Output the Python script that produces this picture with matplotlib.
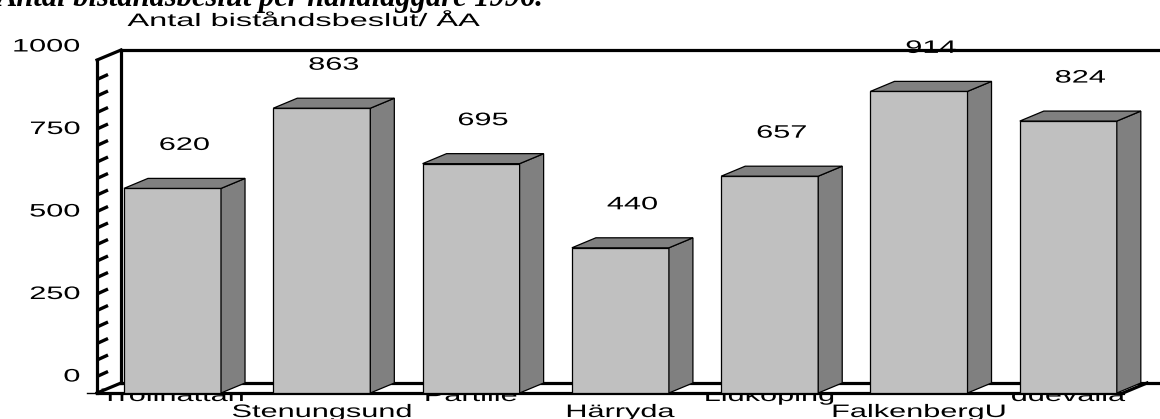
"""
Bar chart: number of assistance decisions per case officer (1996).

Drawn in the old pseudo-3D office style: grey boxes standing on a floor,
a ticked side wall on the left and wide, stretched Arial-like lettering.
"""

import matplotlib.pyplot as plt
import matplotlib.transforms as mtransforms
import numpy as np
from matplotlib.patches import Polygon
from matplotlib.patheffects import AbstractPathEffect

TITLE = "Antal biståndsbeslut per handläggare 1996."
SUBTITLE = "Antal biståndsbeslut/ ÅA"

KOMMUNER = ["Trollhättan", "Stenungsund", "Partille", "Härryda",
            "Lidköping", "FalkenbergU", "ddevalla"]
BESLUT = [620, 863, 695, 440, 657, 914, 824]
Y_TICKS = [0, 250, 500, 750, 1000]
WALL_TICKS = np.arange(50, 1000, 50)

FRONT = "#c0c0c0"
SHADE = "#808080"
INK = "black"

# canvas geometry (pixels at dpi 100)
W, H, DPI = 1160, 419, 100
SLOT_PX = 149.3      # distance between bars
UNIT_PX = 0.33       # pixels per decision
FIRST_PX = 172.5     # centre of first bar front
BASE_PX = 393        # front floor line
BAR_W = 0.65
DX = 24 / SLOT_PX    # box depth, data units
DY = 10 / UNIT_PX
WALL_X = (97 - FIRST_PX) / SLOT_PX
WALL_TOP = 1009
FLOOR_END = (1123 - FIRST_PX) / SLOT_PX
STRETCH = 1.7
LW = 2.3


class Stretch(AbstractPathEffect):
    """Widen glyphs horizontally about the text anchor."""

    def __init__(self, sx, anchor="center"):
        super().__init__()
        self.sx = sx
        self.anchor = anchor

    def draw_path(self, renderer, gc, tpath, affine, rgbFace=None):
        ext = tpath.get_extents()
        a = {"left": ext.x0, "center": (ext.x0 + ext.x1) / 2,
             "right": ext.x1}[self.anchor]
        widen = mtransforms.Affine2D().translate(-a, 0).scale(self.sx, 1).translate(a, 0)
        renderer.draw_path(gc, tpath, widen + affine, rgbFace)


def wide_text(ax, x, y, s, ha="center", va="center", dx=0, dy=0,
              sx=STRETCH, **kw):
    tr = mtransforms.offset_copy(ax.transData, x=dx, y=dy, units="dots")
    return ax.text(x, y, s, ha=ha, va=va, transform=tr,
                   fontfamily="Liberation Sans", fontsize=13,
                   path_effects=[Stretch(sx, ha)], **kw)


fig = plt.figure(figsize=(W / DPI, H / DPI), dpi=DPI)
fig.patch.set_facecolor("white")
ax = fig.add_axes([0, 0, 1, 1])
ax.axis("off")
xmax = (W - FIRST_PX) / SLOT_PX
ax.set_xlim(-FIRST_PX / SLOT_PX, xmax)
ax.set_ylim(-(H - BASE_PX) / UNIT_PX, BASE_PX / UNIT_PX)

# floor, side wall and back wall outline
ax.add_patch(Polygon([(WALL_X, 0), (WALL_X + DX, DY), (FLOOR_END + DX, DY),
                      (FLOOR_END, 0)], closed=True, fc="white", ec="none",
                     zorder=2))
line = dict(color=INK, lw=LW, zorder=3, solid_capstyle="projecting")
ax.plot([WALL_X, WALL_X], [0, WALL_TOP], **line)
ax.plot([WALL_X + DX] * 2, [DY, WALL_TOP + DY], **line)
ax.plot([WALL_X, WALL_X + DX], [WALL_TOP, WALL_TOP + DY], **line)
ax.plot([WALL_X + DX, xmax], [WALL_TOP + DY] * 2,
        color=INK, lw=LW, zorder=7)
ax.plot([WALL_X, FLOOR_END], [0, 0], **line)
ax.plot([WALL_X, WALL_X + DX], [0, DY], **line)
ax.plot([FLOOR_END, FLOOR_END + DX], [0, DY], **line)
ax.plot([WALL_X + DX, xmax], [DY, DY], **line)

# slanted minor ticks painted on the side wall
for v in WALL_TICKS:
    ax.plot([WALL_X, WALL_X + 11 / SLOT_PX], [v, v + 5 / UNIT_PX],
            color=INK, lw=2.4, zorder=3, solid_capstyle="butt")
ax.plot([WALL_X - 10 / SLOT_PX, WALL_X], [0, 0], color=INK, lw=1, zorder=3)

for v in Y_TICKS:
    wide_text(ax, WALL_X, v, f"{v}", ha="right", dx=-17, dy=16)

# boxes: front face from ax.bar, side and lid as polygons
x = np.arange(len(KOMMUNER))
bars = ax.bar(x, BESLUT, width=BAR_W, color=FRONT, edgecolor=INK,
              linewidth=0.9, zorder=5)
for rect in bars:
    x0, w, h = rect.get_x(), rect.get_width(), rect.get_height()
    x1 = x0 + w
    ax.add_patch(Polygon([(x1, 0), (x1 + DX, DY), (x1 + DX, h + DY), (x1, h)],
                         closed=True, fc=SHADE, ec=INK, lw=0.9, zorder=5))
    ax.add_patch(Polygon([(x0, h), (x0 + DX, h + DY), (x1 + DX, h + DY), (x1, h)],
                         closed=True, fc=SHADE, ec=INK, lw=0.9, zorder=5))

for i, v in enumerate(BESLUT):
    wide_text(ax, i + DX / 2, v, f"{v}", dy=43, zorder=6)

# names alternate between two rows under the floor
for i, name in enumerate(KOMMUNER):
    wide_text(ax, i, 0, name, va="baseline", dy=-8 if i % 2 == 0 else -24,
              zorder=1)

fig.text(-3 / W, 1 - 6 / H, TITLE, ha="left", va="baseline",
         fontfamily="Liberation Serif", fontweight="bold", fontstyle="italic",
         fontsize=22)
fig.text(303.5 / W, 1 - 26 / H, SUBTITLE, ha="center", va="baseline",
         fontfamily="Liberation Sans", fontsize=13,
         path_effects=[Stretch(1.8, "center")])

fig.savefig("out.png", dpi=DPI)
plt.close(fig)
